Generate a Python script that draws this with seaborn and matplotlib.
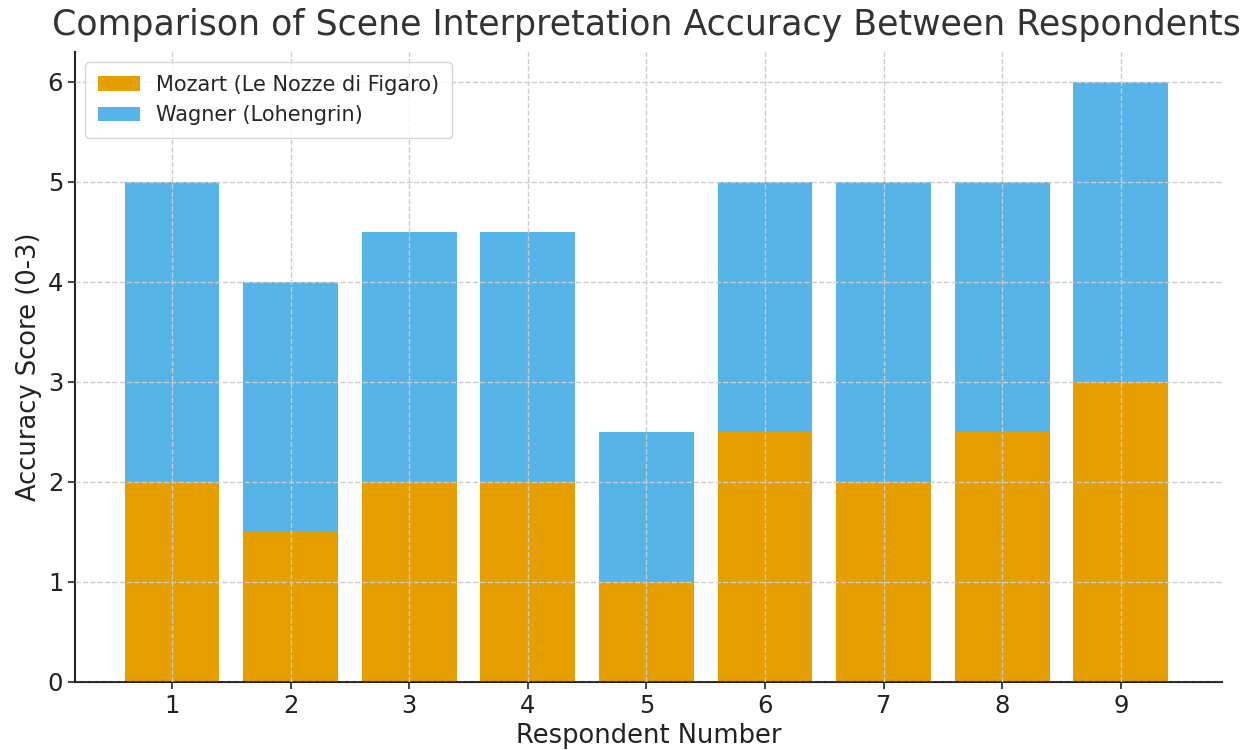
import numpy as np
import pandas as pd
import matplotlib
matplotlib.use('Agg')
import matplotlib.pyplot as plt
import seaborn as sns

respondents = ['1', '2', '3', '4', '5', '6', '7', '8', '9']
mozart = [2, 1.5, 2, 2, 1, 2.5, 2, 2.5, 3]
wagner = [3, 2.5, 2.5, 2.5, 1.5, 2.5, 3, 2.5, 3]

df = pd.DataFrame({'Respondent': respondents, 'Mozart': mozart, 'Wagner': wagner})
df['Total'] = df['Mozart'] + df['Wagner']

sns.set_style('white')
plt.rcParams['font.family'] = ['DejaVu Sans']

fig = plt.figure(figsize=(12.55, 7.5), dpi=100)
ax = fig.add_axes([0.0598, 0.0907, 0.9139, 0.84])

# stacked: total first (wagner colour), mozart on top of it
sns.barplot(x='Respondent', y='Total', data=df, color='#56B4E9', saturation=1,
            width=0.8, linewidth=0, label='Wagner (Lohengrin)', ax=ax)
sns.barplot(x='Respondent', y='Mozart', data=df, color='#E69F00', saturation=1,
            width=0.8, linewidth=0, label='Mozart (Le Nozze di Figaro)', ax=ax)

ax.set_xlim(-0.818, 8.853)
ax.set_ylim(0, 6.3)
ax.set_yticks([0, 1, 2, 3, 4, 5, 6])
ax.grid(True, linestyle='--', color='#cccccc', linewidth=1)
ax.set_axisbelow(False)

for s in ['top', 'right']:
    ax.spines[s].set_visible(False)
for s in ['left', 'bottom']:
    ax.spines[s].set_color('#222222')
    ax.spines[s].set_linewidth(1.5)

ax.tick_params(axis='both', labelsize=17.5, colors='#222222', length=5, width=1.2, left=True, bottom=True)
ax.set_xlabel('Respondent Number', fontsize=18.5, color='#222222')
ax.set_ylabel('Accuracy Score (0-3)', fontsize=18.5, color='#222222')
fig.suptitle('Comparison of Scene Interpretation Accuracy Between Respondents',
             fontsize=25, color='#333333', x=0.515, y=0.99)

h, l = ax.get_legend_handles_labels()
ax.legend(h[::-1], l[::-1], loc='upper left', fontsize=15, frameon=True,
          edgecolor='#cccccc', handlelength=2.0, borderpad=0.6)

fig.savefig('out.png', dpi=100)
